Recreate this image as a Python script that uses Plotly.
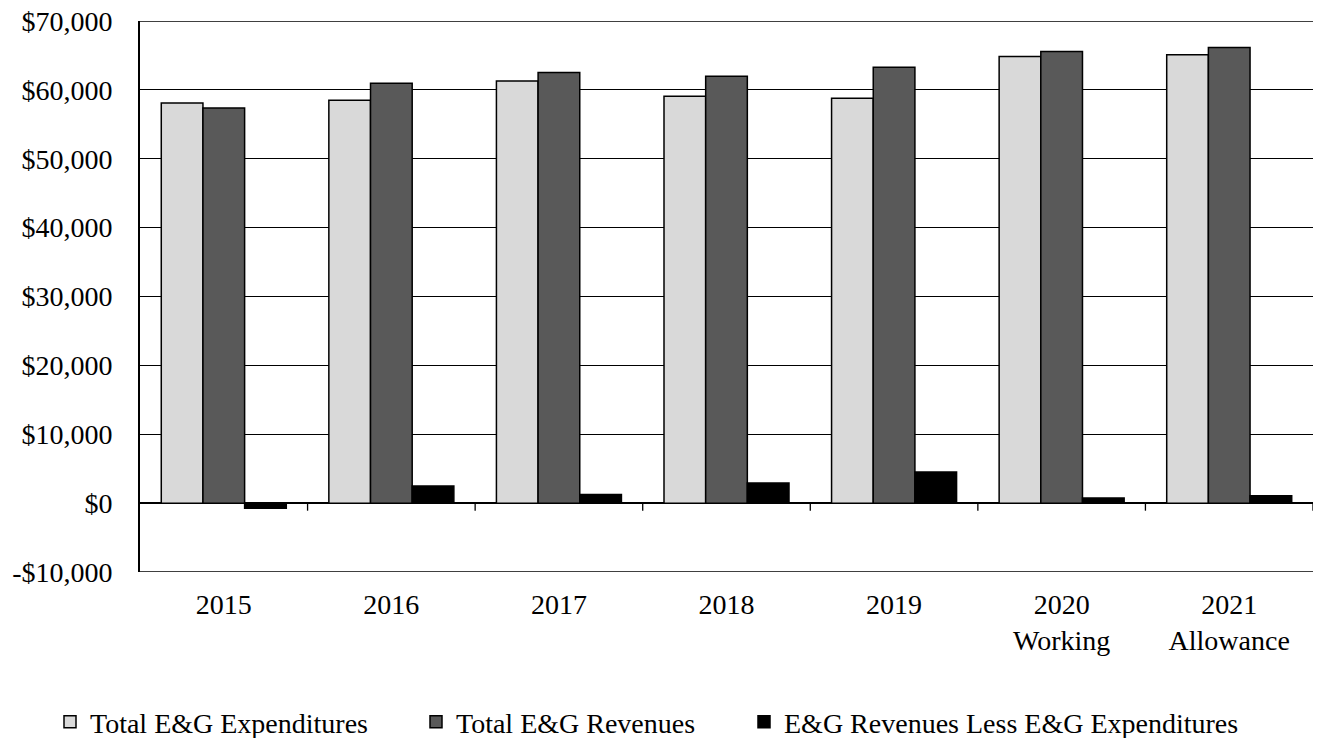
import plotly.graph_objects as go

# Fiscal years shown on the category axis
years = ["2015", "2016", "2017", "2018", "2019", "2020<br>Working", "2021<br>Allowance"]

# E&G totals, in thousands of dollars
expenditures = [58105, 58484, 61283, 59067, 58776, 64854, 65102]
revenues = [57376, 60962, 62522, 61983, 63294, 65583, 66166]
net = [-729, 2478, 1239, 2916, 4518, 729, 1064]

# Value axis ticks
y_ticks = [-10000, 0, 10000, 20000, 30000, 40000, 50000, 60000, 70000]
y_tick_text = ["-$10,000", "$0", "$10,000", "$20,000", "$30,000",
               "$40,000", "$50,000", "$60,000", "$70,000"]

FONT = "Liberation Serif, Times New Roman, serif"
FS = 28

series = [
    ("Total E&G Expenditures", expenditures, "#d9d9d9", "legend"),
    ("Total E&G Revenues", revenues, "#595959", "legend2"),
    ("E&G Revenues Less E&G Expenditures", net, "#000000", "legend3"),
]

fig = go.Figure()
for name, vals, color, leg in series:
    fig.add_trace(go.Bar(
        x=years, y=vals, name=name,
        marker=dict(color=color, line=dict(color="#000000", width=1.5)),
        legend=leg,
    ))

W, H = 1319, 738
ml, mr, mt, mb = 140, 6, 21, 166
pw = W - ml - mr

def px_to_paper_x(px):
    return (px - ml) / pw

leg_common = dict(
    orientation="h", yanchor="middle", xanchor="left",
    yref="container", y=(H - 722) / H,
    font=dict(family=FONT, size=FS, color="#000000"),
    bgcolor="rgba(0,0,0,0)", itemwidth=30, tracegroupgap=0,
)

line_style = dict(color="#000000", width=1.3)
TICK_DEPTH = 1100  # how far the category tick marks hang below zero

# short tick marks hanging below the zero line at each category boundary
shapes = [
    dict(type="line", xref="x", yref="y",
         x0=i - 0.5, x1=i - 0.5, y0=0, y1=-TICK_DEPTH, line=line_style)
    for i in range(1, len(years) + 1)
]
# horizontal rules at the top and bottom of the value range
for yv in (y_ticks[0], y_ticks[-1]):
    shapes.append(dict(type="line", xref="paper", yref="y",
                       x0=0, x1=1, y0=yv, y1=yv, line=line_style))

fig.update_layout(
    width=W, height=H,
    margin=dict(l=ml, r=mr, t=mt, b=mb, pad=0, autoexpand=False),
    paper_bgcolor="white", plot_bgcolor="white",
    barmode="group", bargap=0.254, bargroupgap=0,
    font=dict(family=FONT, size=FS, color="#000000"),
    showlegend=True,
    legend=dict(leg_common, x=px_to_paper_x(50)),
    legend2=dict(leg_common, x=px_to_paper_x(416)),
    legend3=dict(leg_common, x=px_to_paper_x(744)),
    shapes=shapes,
    xaxis=dict(
        type="category", range=[-0.5, len(years) - 0.5],
        showline=False, ticks="", showgrid=False,
        tickfont=dict(family=FONT, size=FS, color="#000000"),
        ticklabelstandoff=13,
    ),
    yaxis=dict(
        range=[-10000, 70000], tickmode="array",
        tickvals=y_ticks, ticktext=y_tick_text,
        showgrid=True, gridcolor="#000000", gridwidth=1.3,
        zeroline=True, zerolinecolor="#000000", zerolinewidth=1.6,
        showline=True, linecolor="#000000", linewidth=1.6,
        ticks="", ticklabelstandoff=20,
        tickfont=dict(family=FONT, size=FS, color="#000000"),
    ),
)

fig.write_html("out.html")
